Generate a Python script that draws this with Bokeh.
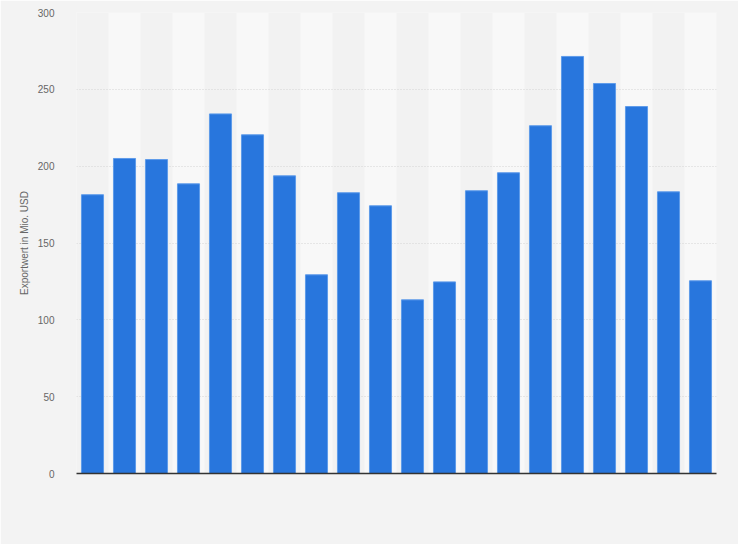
from bokeh.embed import file_html
from bokeh.models import ColumnDataSource, FixedTicker, Range1d
from bokeh.plotting import figure
from bokeh.resources import INLINE

# export values (Mio. USD), one bar per period
positions = list(range(1, 21))
export_values = [181.4, 205.0, 204.3, 188.5, 234.0, 220.4, 193.7, 129.3, 182.7, 174.2,
                 113.0, 124.7, 184.0, 195.7, 226.3, 271.4, 253.8, 238.8, 183.3, 125.4]
y_ticks = [0, 50, 100, 150, 200, 250, 300]

src = ColumnDataSource(data=dict(x=positions, value=export_values))

p = figure(width=738, height=544, output_backend="svg", toolbar_location=None,
           x_range=Range1d(0.5, 20.5), y_range=Range1d(0, 300),
           min_border_left=76, min_border_right=22, min_border_top=12, min_border_bottom=71)
p.background_fill_color = "#f2f2f2"
p.border_fill_color = "#f3f3f3"
p.outline_line_color = None

p.vbar(x="x", top="value", width=0.69, source=src,
       fill_color="#2876dd", line_color="#5e9bea", line_width=1)

# alternating column bands
p.xgrid.ticker = FixedTicker(ticks=[i + 0.5 for i in range(0, 21)])
p.xgrid.grid_line_color = None
p.xgrid.band_fill_color = "#f8f8f8"
p.xgrid.band_fill_alpha = 1.0

p.ygrid.ticker = FixedTicker(ticks=y_ticks)
p.ygrid.grid_line_color = "#d4d4d4"
p.ygrid.grid_line_dash = "1 2"

p.yaxis.ticker = FixedTicker(ticks=y_ticks)
p.yaxis.axis_line_color = None
p.yaxis.major_tick_line_color = None
p.yaxis.minor_tick_line_color = None
p.yaxis.major_label_text_font = "Liberation Sans"
p.yaxis.major_label_text_font_size = "10px"
p.yaxis.major_label_text_color = "#666666"
p.yaxis.major_label_standoff = 16
p.yaxis.axis_label = "Exportwert in Mio. USD"
p.yaxis.axis_label_text_font = "Liberation Sans"
p.yaxis.axis_label_text_font_size = "10px"
p.yaxis.axis_label_text_font_style = "normal"
p.yaxis.axis_label_text_color = "#666666"
p.yaxis.axis_label_standoff = 5

# baseline only, no x labels
p.xaxis.ticker = FixedTicker(ticks=[])
p.xaxis.axis_line_color = "#333333"
p.xaxis.axis_line_width = 1.5
p.xaxis.major_tick_line_color = None
p.xaxis.minor_tick_line_color = None

open("out.html", "w").write(file_html(p, INLINE))
